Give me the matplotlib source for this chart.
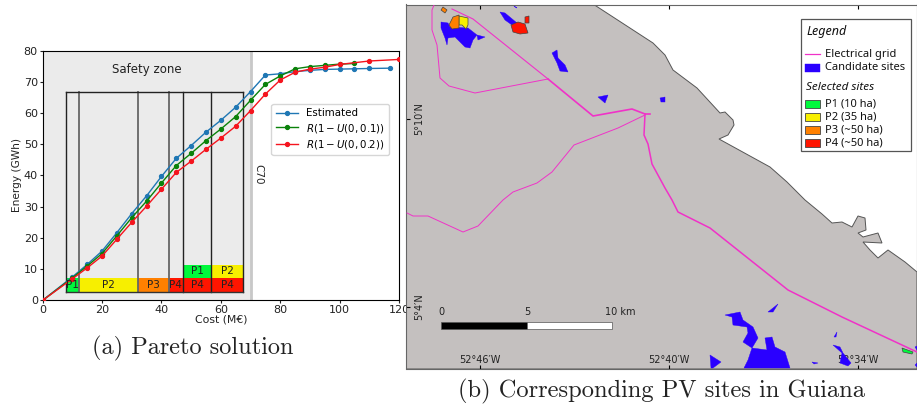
import matplotlib
matplotlib.use('Agg')
import matplotlib.pyplot as plt
from matplotlib.patches import Polygon, Rectangle

W, H = 917, 409

# Pareto curves
est_x = [0, 10, 15, 20, 25, 30, 35, 40, 45, 50, 55, 60, 65, 70, 75, 80, 85, 90, 95, 100, 105, 110, 117]
est_y = [0, 7.5, 11.5, 15.8, 21.7, 27.8, 33.5, 39.7, 45.5, 49.6, 53.9, 57.7, 61.9, 66.9, 72.2, 72.6, 73.3, 73.7, 74, 74.1, 74.2, 74.3, 74.4]
u01_x = [0, 10, 15, 20, 25, 30, 35, 40, 45, 50, 55, 60, 65, 70, 75, 80, 85, 90, 95, 100, 105]
u01_y = [0, 7.2, 11, 15, 20.7, 26.5, 31.8, 37.6, 43.2, 47.1, 51.2, 54.9, 58.9, 64.1, 69.2, 71.9, 74.2, 74.9, 75.3, 75.7, 75.9]
u02_x = [0, 10, 15, 20, 25, 30, 35, 40, 45, 50, 55, 60, 65, 70, 75, 80, 85, 90, 95, 100, 110, 120]
u02_y = [0, 6.9, 10.4, 14.2, 19.6, 25, 30.2, 35.6, 41, 44.6, 48.4, 52, 55.8, 60.8, 66.1, 70.6, 73.1, 74.1, 74.7, 75.6, 76.7, 77.2]

# site blocks under the curve
block_edges = [7.7, 12.3, 32.2, 42.5, 47.2, 56.8, 67.4]
block_low = ['P1', 'P2', 'P3', 'P4', 'P4', 'P4']
block_high = [None, None, None, None, 'P1', 'P2']
site_colors = {'P1': '#00f93c', 'P2': '#f7ef00', 'P3': '#ff8000', 'P4': '#ff1500'}
edge_grey = [False, True, True, True, False, False, False]

land = [(406, 4), (593, 4), (653, 43), (665, 55), (673, 70), (697, 88), (720, 113), (725, 112), (733, 120),
        (734, 125), (728, 135), (719, 139), (770, 167), (787, 182), (805, 200), (822, 214), (832, 223),
        (842, 222), (852, 227), (858, 216), (865, 218), (866, 230), (858, 233), (863, 237), (878, 233),
        (882, 243), (863, 242), (870, 250), (878, 258), (888, 250), (905, 262), (917, 272), (917, 369), (406, 369)]
grid_top = [(452, 9), (473, 19), (548, 79)]
grid_main = [(548, 79), (593, 116), (632, 109), (645, 114), (650, 114)]
grid_south = [(645, 114), (644, 135), (648, 144), (652, 164), (665, 188), (672, 200), (678, 212), (710, 228),
              (788, 290), (842, 317), (917, 352)]
grid_north = [(434, 5), (432, 10), (432, 30), (437, 45), (440, 78), (449, 86), (475, 93), (548, 79)]
grid_west = [(645, 115), (618, 128), (574, 145), (552, 172), (537, 183), (513, 192), (503, 200), (478, 226),
             (463, 232), (428, 216), (413, 216), (407, 213)]
candidates = [
    [(441, 22), (448, 23), (450, 27), (468, 28), (477, 35), (473, 40), (470, 48), (465, 47), (455, 37), (448, 38), (447, 45), (445, 38), (441, 28)],
    [(477, 35), (485, 37), (478, 40)],
    [(500, 12), (505, 13), (517, 23), (512, 25), (505, 20)],
    [(513, 5), (517, 8), (515, 7)],
    [(552, 53), (557, 50), (558, 58), (565, 65), (568, 72), (560, 71), (557, 63)],
    [(598, 97), (608, 95), (605, 103)],
    [(660, 98), (665, 97), (665, 102), (661, 102)],
    [(725, 315), (740, 312), (743, 320), (753, 327), (758, 338), (752, 348), (767, 350), (765, 338), (772, 337), (775, 347), (785, 352), (790, 368), (744, 368), (748, 360), (752, 348), (743, 342), (748, 333), (747, 327), (733, 325), (732, 317)],
    [(710, 355), (721, 362), (713, 368), (711, 368)],
    [(768, 312), (778, 304), (773, 312)],
    [(834, 337), (837, 332), (836, 337)],
    [(833, 345), (840, 347), (843, 353), (851, 363), (848, 366), (840, 363), (842, 353)],
    [(812, 362), (818, 363), (814, 364)],
    [(915, 347), (917, 346), (917, 350)],
    [(915, 365), (917, 363), (917, 367)],
]
selected = {
    'P1': [[(902, 348), (913, 352), (912, 354), (903, 352)]],
    'P2': [[(459, 16), (468, 18), (468, 25), (466, 29), (462, 25), (459, 25)]],
    'P3': [[(449, 25), (453, 17), (459, 15), (459, 28), (452, 29)], [(441, 10), (443, 7), (447, 10), (445, 13)]],
    'P4': [[(511, 25), (518, 22), (525, 24), (528, 33), (520, 34), (513, 32)], [(525, 17), (529, 16), (529, 23), (525, 23)]],
}
lon_ticks = [480, 669, 858]
lon_labels = ["52°46′W", "52°40′W", "52°34′W"]
lat_ticks = [119, 307]
lat_labels = ["5°10′N", "5°4′N"]
scale_x = [441, 527, 612]
scale_labels = ['0', '5', '10 km']
legend_sites = ['P1 (10 ha)', 'P2 (35 ha)', 'P3 (~50 ha)', 'P4 (~50 ha)']


def pixel_axes(fig, left, top, right, bottom):
    return fig.add_axes([left / W, 1 - bottom / H, (right - left) / W, (bottom - top) / H])


fig = plt.figure(figsize=(W / 100, H / 100), dpi=100)

# --- left panel
ax = pixel_axes(fig, 42.7, 50.7, 399, 300.3)
ax.axvspan(0, 70, color='#ebebeb', lw=0, zorder=0)
ax.axvline(70, color='#c8c8c8', lw=2, zorder=1)
for i in range(len(block_low)):
    x0, x1 = block_edges[i], block_edges[i + 1]
    ax.add_patch(Rectangle((x0, 2.7), x1 - x0, 4.6, fc=site_colors[block_low[i]], lw=0, zorder=2))
    ax.text((x0 + x1) / 2, 5, block_low[i], ha='center', va='center', fontsize=7.5, color='#222222', zorder=6)
    if block_high[i]:
        ax.add_patch(Rectangle((x0, 7.3), x1 - x0, 4, fc=site_colors[block_high[i]], lw=0, zorder=2))
        ax.text((x0 + x1) / 2, 9.3, block_high[i], ha='center', va='center', fontsize=7.5, color='#222222', zorder=6)
for x, grey in zip(block_edges, edge_grey):
    ax.plot([x, x], [2.7, 66.7], color='#666666' if grey else '#222222', lw=1.3 if grey else 1, zorder=3)
ax.plot([block_edges[0], block_edges[-1]], [66.7, 66.7], color='#222222', lw=1, zorder=3)
ax.plot([block_edges[0], block_edges[-1]], [2.7, 2.7], color='#333333', lw=1, zorder=3)

ax.plot(est_x, est_y, color='#1f77b4', marker='o', ms=2.8, lw=1, label='Estimated', zorder=4)
ax.plot(u01_x, u01_y, color='#0a820a', marker='o', ms=2.8, lw=1, label=r'$R(1-U(0,0.1))$', zorder=4)
ax.plot(u02_x, u02_y, color='#f5141e', marker='o', ms=2.8, lw=1, label=r'$R(1-U(0,0.2))$', zorder=4)

ax.text(35, 73.9, 'Safety zone', ha='center', va='center', fontsize=8.5, color='#222222')
ax.text(72.5, 40.5, 'C70', rotation=-90, ha='center', va='center', fontsize=7.5, color='#222222')
ax.set_xlim(0, 120)
ax.set_ylim(0, 80)
ax.set_xticks(range(0, 121, 20))
ax.set_yticks(range(0, 81, 10))
ax.tick_params(labelsize=8, length=2.5, width=0.8, pad=1, colors='#222222')
ax.set_xlabel('Cost (M€)', fontsize=7.8, labelpad=-0.5, color='#222222')
ax.set_ylabel('Energy (GWh)', fontsize=7.6, labelpad=1, color='#222222')
ax.legend(loc='upper left', bbox_to_anchor=(0.642, 0.785), fontsize=7.4, borderpad=0.4, labelspacing=0.3,
          handlelength=2.2, framealpha=0.8, borderaxespad=0)

# --- right panel
m = pixel_axes(fig, 406, 4.5, 917, 368.5)
m.set_zorder(5)
m.set_xlim(406, 917)
m.set_ylim(368.5, 4.5)
m.add_patch(Polygon(land, fc='#c4c0bf', ec='#555555', lw=0.7, zorder=1))
for line, lw in [(grid_top, 0.8), (grid_main, 1.2), (grid_south, 1.1), (grid_north, 0.7), (grid_west, 0.7)]:
    m.plot([p[0] for p in line], [p[1] for p in line], color='#f032c8', lw=lw, zorder=3)
for shape in candidates:
    m.add_patch(Polygon(shape, fc='#2a00ff', ec='#2a00ff', lw=0.3, zorder=2))
for name in selected:
    for shape in selected[name]:
        m.add_patch(Polygon(shape, fc=site_colors[name], ec='#444444', lw=0.5, zorder=4))

m.set_xticks(lon_ticks, lon_labels)
m.set_yticks(lat_ticks, lat_labels)
m.tick_params(axis='x', direction='in', length=3, width=0.8, top=True, pad=-9.5, labelsize=7, labelcolor='#222222')
m.tick_params(axis='y', direction='in', length=3, width=0.8, pad=-13, labelsize=7, labelcolor='#222222', labelrotation=90)
for lab in m.get_yticklabels():
    lab.set_va('center')
for s in m.spines.values():
    s.set_color('#666666')
    s.set_linewidth(0.8)

# scale bar
m.add_patch(Rectangle((scale_x[0], 322), scale_x[1] - scale_x[0], 7, fc='black', ec='#555555', lw=0.5, zorder=5))
m.add_patch(Rectangle((scale_x[1], 322), scale_x[2] - scale_x[1], 7, fc='white', ec='#555555', lw=0.5, zorder=5))
for x, lab in zip(scale_x, scale_labels):
    m.text(x if lab != '10 km' else x + 8, 312.5, lab, ha='center', va='center', fontsize=7, color='#222222', zorder=5)

# map legend
sans = 'Noto Sans'
m.add_patch(Rectangle((801, 19), 110, 132, fc='white', ec='#555555', lw=0.9, zorder=6))
m.text(806, 32, 'Legend', style='italic', family=sans, fontsize=9, va='center', color='#111111', zorder=7)
m.plot([805, 820], [54.5, 54.5], color='#f032c8', lw=0.9, zorder=7)
m.text(825, 54.5, 'Electrical grid', family=sans, fontsize=8, va='center', color='#111111', zorder=7)
m.add_patch(Rectangle((805, 64), 15, 8, fc='#2a00ff', ec='#2a00ff', lw=0.3, zorder=7))
m.text(825, 68, 'Candidate sites', family=sans, fontsize=8, va='center', color='#111111', zorder=7)
m.text(806, 87.5, 'Selected sites', style='italic', family=sans, fontsize=8.4, va='center', color='#111111', zorder=7)
for i, lab in enumerate(legend_sites):
    y = 104 + 13 * i
    m.add_patch(Rectangle((805, y - 4), 15, 8, fc=site_colors['P%d' % (i + 1)], ec='#444444', lw=0.6, zorder=7))
    m.text(825, y, lab, family=sans, fontsize=8, va='center', color='#111111', zorder=7)

# captions
fig.text(193 / W, 1 - 348 / H, '(a) Pareto solution', family='cmr10', fontsize=17.5, ha='center', va='center', color='#222222')
fig.text(662 / W, 1 - 391 / H, '(b) Corresponding PV sites in Guiana', family='cmr10', fontsize=17.6, ha='center', va='center', color='#222222')

fig.savefig('out.png', dpi=100)
